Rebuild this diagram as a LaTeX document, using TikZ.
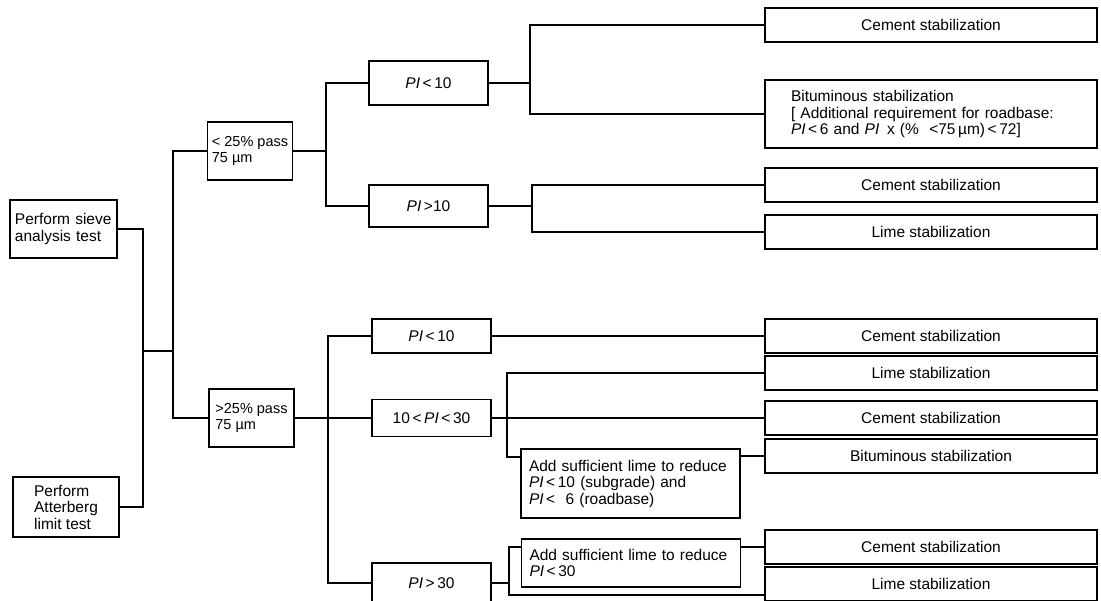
\documentclass[tikz,border=0pt]{standalone}
\usepackage{fontspec}
\setmainfont{Liberation Sans}
\usetikzlibrary{calc}
\newcommand{\plas}{\textit{PI}}

\begin{document}
\begin{tikzpicture}[x=1pt,y=-1pt,
  every node/.style={font=\fontsize{15.5}{16.5}\selectfont},
  box/.style={draw, line width=1.7pt},
  link/.style={line width=1.7pt},
  testbox/.style={box, align=left, inner xsep=5pt, inner ysep=0pt},
  passbox/.style={box, align=left, font=\fontsize{14.5}{16.5}\selectfont, minimum width=85pt, minimum height=58pt, inner sep=1pt},
  condbox/.style={box, minimum width=119pt, inner sep=0pt},
  stabbox/.style={box, minimum width=332pt, minimum height=34pt, inner sep=0pt},
  limebox/.style={box, align=left, text width=203pt, inner xsep=8pt}]
  \useasboundingbox (0,0) rectangle (1101,601);
  \clip (0,0) rectangle (1101,601);

  % tests and fines content
  \node[testbox, text width=97pt, minimum height=58pt] (sieve) at (63.5,229) {Perform sieve\\analysis test};
  \node[testbox, minimum width=106pt, minimum height=60pt] (atter) at (66,507) {Perform\\Atterberg\\limit test};
  \node[passbox] (lo) at (250,151) {< 25\% pass\\75 µm\hspace*{20pt}};
  \node[passbox] (hi) at (251.5,418) {>25\% pass\\75 µm\hspace*{20pt}};

  % plasticity index
  \node[condbox, minimum height=44pt] (pia) at (428.5,83) {\plas\,<\,10};
  \node[condbox, minimum height=42pt] (pib) at (428.5,206) {\plas\,>10};
  \node[condbox, minimum height=34pt] (pic) at (431.5,336) {\plas\,<\,10};
  \node[condbox, minimum height=37pt] (pim) at (431.5,418) {10\,<\,\plas\,<\,30};
  \node[condbox, minimum height=40pt] (pid) at (431.5,583) {\plas\,>\,30};
  \node[limebox, minimum height=69pt] (add1) at (630.5,483.5) {Add sufficient lime to reduce\\\plas\,<\,10 (subgrade) and\\\plas\,<\ \ 6 (roadbase)};
  \node[limebox, minimum height=48pt] (add2) at (631,563) {Add sufficient lime to reduce\\\plas\,<\,30};

  % stabilization
  \node[stabbox] (s1) at (931,25) {Cement stabilization};
  \node[stabbox, minimum height=68pt, align=left, text width=280pt, inner xsep=26pt] (s2) at (931,114)
    {Bituminous stabilization\\{[} Additional requirement for roadbase:\\\plas\,<\,6 and \plas\ \,x (\%\ \ <75\,µm)\,<\,72{]}};
  \node[stabbox] (s3) at (931,185) {Cement stabilization};
  \node[stabbox] (s4) at (931,232) {Lime stabilization};
  \node[stabbox] (s5) at (931,336) {Cement stabilization};
  \node[stabbox] (s6) at (931,373) {Lime stabilization};
  \node[stabbox] (s7) at (931,418) {Cement stabilization};
  \node[stabbox] (s8) at (931,456) {Bituminous stabilization};
  \node[stabbox] (s9) at (931,547) {Cement stabilization};
  \node[stabbox] (s10) at (931,584) {Lime stabilization};

  \coordinate (j1) at (143,351);
  \coordinate (j2) at (173,351);
  \coordinate (j3) at (326,151);
  \coordinate (j4) at (530,83);
  \coordinate (j5) at (532,206);
  \coordinate (j6) at (328,418);
  \coordinate (j7) at (507,418);
  \coordinate (j8) at (509,583);

  \draw[link] (sieve.east) -| (j1) |- (atter.east);
  \draw[link] (j1) -- (j2);
  \draw[link] (lo.west) -| (j2) |- (hi.west);
  \draw[link] (lo.east) -- (j3);
  \draw[link] (pia.west) -| (j3) |- (pib.west);
  \draw[link] (pia.east) -- (j4);
  \draw[link] (s1.west) -| (j4) |- (s2.west);
  \draw[link] (pib.east) -- (j5);
  \draw[link] (s3.west) -| (j5) |- (s4.west);
  \draw[link] (hi.east) -- (pim.west);
  \draw[link] (pic.west) -| (j6) |- (pid.west);
  \draw[link] (pic.east) -- (s5.west);
  \draw[link] (pim.east) -- (s7.west);
  \draw[link] (s6.west) -| (j7) |- ($(add1.north west)+(0,9)$);
  \draw[link] (s8.west -| add1.east) -- (s8.west);
  \draw[link] (pid.east) -- (j8);
  \draw[link] (s9.west -| add2.west) -| (j8) |- ($(s10.south west)+(0,-7)$);
  \draw[link] (s9.west -| add2.east) -- (s9.west);
\end{tikzpicture}
\end{document}
